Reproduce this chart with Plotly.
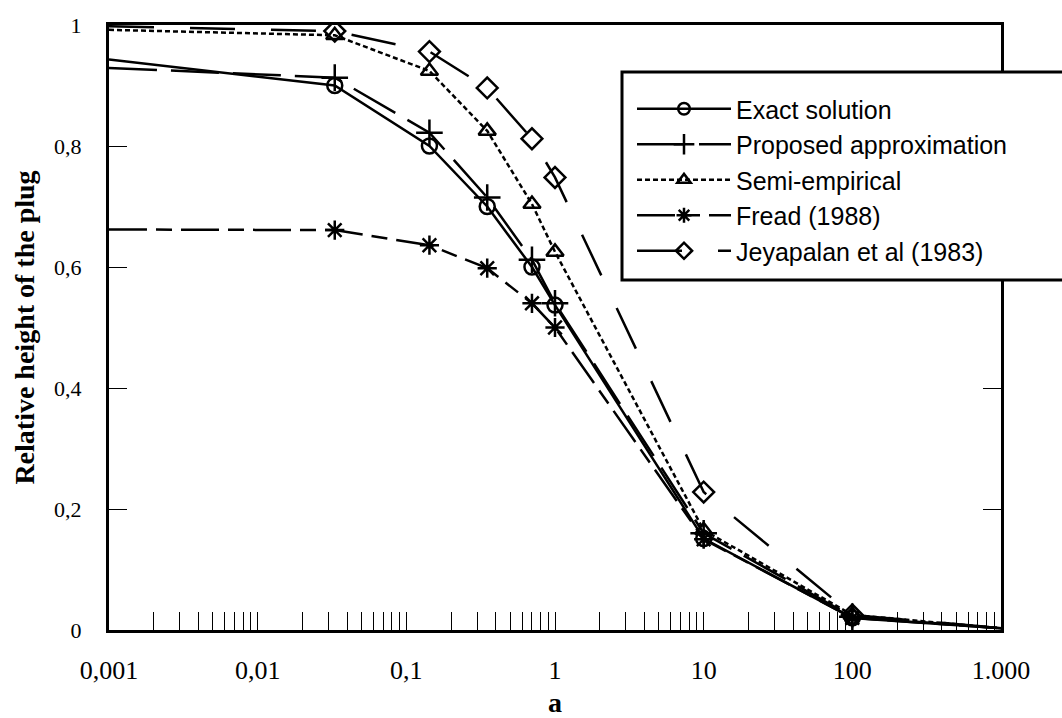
import plotly.graph_objects as go

# ---------------- data ----------------
a_vals = [0.001, 0.033, 0.143, 0.35, 0.7, 1, 10, 100, 1000]
exact = [0.943, 0.900, 0.800, 0.700, 0.600, 0.537, 0.151, 0.020, 0.003]
proposed = [0.929, 0.913, 0.822, 0.715, 0.612, 0.540, 0.160, 0.022, 0.003]
semi_empirical = [0.992, 0.983, 0.924, 0.825, 0.704, 0.625, 0.165, 0.025, 0.003]
fread = [0.662, 0.661, 0.636, 0.598, 0.540, 0.500, 0.150, 0.020, 0.003]
jeyapalan = [0.998, 0.990, 0.956, 0.896, 0.812, 0.748, 0.228, 0.025, 0.003]

series_names = ["Exact solution", "Proposed approximation", "Semi-empirical",
                "Fread (1988)", "Jeyapalan et al (1983)"]

x_tickvals = [0.001, 0.01, 0.1, 1, 10, 100, 1000]
x_ticktext = ["0,001", "0,01", "0,1", "1", "10", "100", "1.000"]
y_tickvals = [0, 0.2, 0.4, 0.6, 0.8, 1]
y_ticktext = ["0", "0,2", "0,4", "0,6", "0,8", "1"]

# ---------------- styles ----------------
styles = [
    dict(symbol="circle-open", size=15, dash="solid"),
    dict(symbol="cross-thin-open", size=19, dash="48px,14px"),
    dict(symbol="triangle-up-open", size=15, dash="5px,3px"),
    dict(symbol="asterisk-open", size=16, dash="38px,9px,16px,9px"),
    dict(symbol="diamond-open", size=16, dash="45px,36px"),
]
ys = [exact, proposed, semi_empirical, fread, jeyapalan]

W, H = 1062, 718
ML, MR, MT, MB = 109, 61, 25, 88

fig = go.Figure()
for name, y, st in zip(series_names, ys, styles):
    n = len(a_vals)
    sizes = [0] + [st["size"]] * (n - 2) + [0]
    fig.add_trace(go.Scatter(
        x=a_vals, y=y, name=name, mode="lines+markers",
        line=dict(color="black", width=2.5, dash=st["dash"]),
        marker=dict(symbol=st["symbol"], size=sizes, color="black", opacity=1,
                    line=dict(color="black", width=2.5)),
    ))

serif = "Liberation Serif, Times New Roman, serif"
sans = "Liberation Sans, Arial, sans-serif"

pw = W - ML - MR
ph = H - MT - MB


def px_x(p):
    return (p - ML) / pw


def px_y(p):
    return (H - MB - p) / ph


fig.add_shape(type="rect", xref="paper", yref="paper",
              x0=px_x(622), x1=px_x(1080), y0=px_y(280), y1=px_y(72),
              line=dict(color="black", width=3), fillcolor="white", layer="above")

fig.update_layout(
    width=W, height=H,
    margin=dict(l=ML, r=MR, t=MT, b=MB, autoexpand=False),
    paper_bgcolor="white", plot_bgcolor="white",
    showlegend=True,
    legend=dict(x=px_x(632), xanchor="left", y=px_y(86), yanchor="top",
                bgcolor="rgba(0,0,0,0)", borderwidth=0,
                font=dict(family=sans, size=25, color="black"),
                itemwidth=94, itemsizing="trace", tracegroupgap=0),
    xaxis=dict(type="log", range=[-3, 3], tickmode="array",
               tickvals=x_tickvals, ticktext=x_ticktext,
               ticks="inside", ticklen=18, tickwidth=1.2, tickcolor="black",
               showline=True, linewidth=3, linecolor="black", mirror=True,
               showgrid=False, zeroline=False,
               minor=dict(ticks="inside", ticklen=18, tickwidth=1.2,
                          tickcolor="black", dtick="D1", showgrid=False),
               tickfont=dict(family=serif, size=26, color="black"),
               ticklabelstandoff=15,
               title=dict(text="<b>a</b>", font=dict(family=serif, size=28, color="black"),
                          standoff=10)),
    yaxis=dict(range=[0, 1], tickmode="array", tickvals=y_tickvals, ticktext=y_ticktext,
               ticks="inside", ticklen=18, tickwidth=1.2, tickcolor="black",
               showline=True, linewidth=3, linecolor="black", mirror="ticks",
               showgrid=False, zeroline=False,
               tickfont=dict(family=serif, size=22, color="black"),
               ticklabelstandoff=20,
               title=dict(text="<b>Relative height of the plug</b>",
                          font=dict(family=serif, size=28, color="black"),
                          standoff=12)),
)

fig.write_html("out.html")
